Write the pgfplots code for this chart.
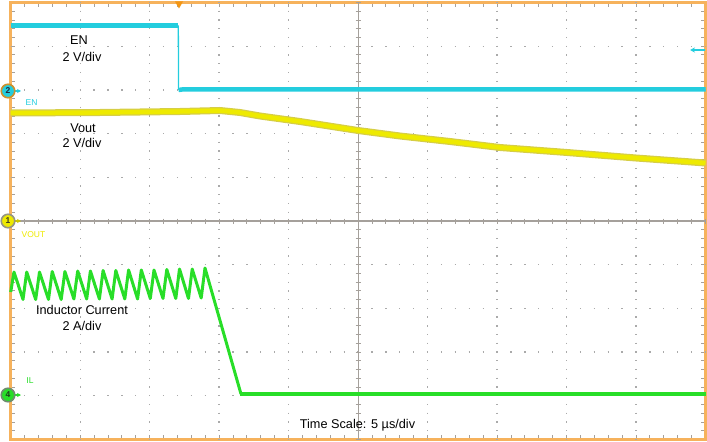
\documentclass[border=0pt]{standalone}
\usepackage{fontspec}
\setmainfont{Liberation Sans}
\usepackage{pgfplots}
\pgfplotsset{compat=1.18}
\usetikzlibrary{arrows.meta,calc}
\definecolor{frameor}{RGB}{246,178,92}
\definecolor{trigor}{RGB}{243,150,20}
\definecolor{tickgray}{RGB}{165,160,155}
\definecolor{gridgray}{RGB}{170,170,170}
\definecolor{encyan}{RGB}{35,205,222}
\definecolor{voyellow}{RGB}{238,234,0}
\definecolor{voedge}{RGB}{214,206,70}
\definecolor{ilgreen}{RGB}{40,222,40}
\begin{document}
\begin{tikzpicture}
\begin{axis}[
  scale only axis, width=694.8bp, height=437bp,
  xmin=10.7, xmax=705.5, ymin=2.5, ymax=439.5, y dir=reverse,
  axis line style={draw=frameor, line width=3bp},
  xtick={10.7,24.596,...,706}, ytick={2.5,11.24,...,440},
  xticklabel=\empty, yticklabel=\empty,
  tick align=inside, major tick length=4.5bp,
  tick style={draw=tickgray, line width=0.9bp},
  clip=false,
]
% grid
\pgfplotsinvokeforeach{1,2,3,4,6,7,8,9}{
  \draw[gridgray, line width=1.3bp, dash pattern=on 1.3bp off 7.44bp, dash phase=0.65bp]
    ({10.7+69.48*#1},2.5) -- ({10.7+69.48*#1},439.5);
  \draw[gridgray, line width=1.3bp, dash pattern=on 1.3bp off 12.596bp, dash phase=0.65bp]
    (10.7,{2.5+43.7*#1}) -- (705.5,{2.5+43.7*#1});
}
\draw[tickgray, line width=1.1bp] (358.1,2.5) -- (358.1,439.5);
\draw[tickgray, line width=1.1bp] (10.7,221) -- (705.5,221);
\pgfplotsinvokeforeach{0,...,50}{
  \draw[tickgray, line width=0.9bp] ({10.7+13.896*#1},218.5) -- ({10.7+13.896*#1},223.5);
  \draw[tickgray, line width=0.9bp] (355.6,{2.5+8.74*#1}) -- (360.6,{2.5+8.74*#1});
}
% EN (channel 2)
\addplot[encyan, line width=4.5bp, line join=round] coordinates {(10.7,25.5) (178,25.5)};
\addplot[encyan, line width=1.3bp] coordinates {(178.3,25.5) (178.6,90)};
\addplot[encyan, line width=4.5bp] coordinates {(178.5,90) (182,89.5) (705.5,89.5)};
% Vout (channel 1)
\addplot[voedge, line width=7bp, line join=round] coordinates {
 (10.7,113) (100,112.5) (180,111.5) (220,110.5) (240,112.5) (260,116) (300,121.5)
 (358,130.5) (400,136) (450,141.5) (500,147.5) (567,152.5) (636,158) (705.5,163)};
\addplot[voyellow, line width=4.5bp, line join=round] coordinates {
 (10.7,113) (100,112.5) (180,111.5) (220,110.5) (240,112.5) (260,116) (300,121.5)
 (358,130.5) (400,136) (450,141.5) (500,147.5) (567,152.5) (636,158) (705.5,163)};
% Inductor current (channel 4)
\addplot[ilgreen, line width=3bp, line join=round] coordinates {
 (10.7,292) (14,272) (23,299.5) (26.7,272) (35.7,299.5) (39.5,272) (48.5,299.5)
 (52.2,271.5) (61.2,299.5) (64.9,271.5) (73.9,299) (77.7,271) (86.7,299)
 (90.4,271) (99.4,299) (103.1,270.5) (112.1,299) (115.8,270.5) (124.8,299)
 (128.6,270) (137.6,299) (141.3,270) (150.3,298.5) (154,270) (163,298.5)
 (166.8,269.5) (175.8,298.5) (179.5,269) (188.5,298.5) (192.2,269) (201.2,298)
 (205,268) (211,289) (241,394)};
\addplot[ilgreen, line width=4.5bp] coordinates {(240,394) (705.5,394)};
% labels
\node[anchor=base, font=\fontsize{12.7bp}{15bp}\selectfont] at (79,45) {EN};
\node[anchor=base, font=\fontsize{12.7bp}{15bp}\selectfont] at (82,62) {2 V/div};
\node[anchor=base, font=\fontsize{12.7bp}{15bp}\selectfont] at (83,132) {Vout};
\node[anchor=base, font=\fontsize{12.7bp}{15bp}\selectfont] at (82,147) {2 V/div};
\node[anchor=base, font=\fontsize{12.7bp}{15bp}\selectfont] at (82,314) {Inductor Current};
\node[anchor=base, font=\fontsize{12.7bp}{15bp}\selectfont] at (82,330) {2 A/div};
\node[anchor=base, font=\fontsize{12.7bp}{15bp}\selectfont] at (357.5,428) {Time Scale: 5 µs/div};
% channel tags
\node[anchor=base, text=encyan, font=\fontsize{8.5bp}{9bp}\selectfont] at (31.5,106) {EN};
\node[anchor=base, text=voyellow, font=\fontsize{8.5bp}{9bp}\selectfont] at (33.5,237) {VOUT};
\node[anchor=base, text=ilgreen, font=\fontsize{8.5bp}{9bp}\selectfont] at (30,383) {IL};
% channel markers
\draw[encyan, line width=1.2bp, -{Stealth[length=4bp,width=4bp]}] (13,91) -- (21,91);
\draw[voyellow!85!black, line width=1.2bp, -{Stealth[length=4bp,width=4bp]}] (13,221) -- (21,221);
\draw[ilgreen, line width=1.2bp, -{Stealth[length=4bp,width=4bp]}] (13,395) -- (21,395);
\node[circle, fill=encyan, draw={rgb,255:red,205;green,145;blue,45}, line width=1.6bp, minimum size=13.5bp, inner sep=0pt,
  font=\fontsize{8.5bp}{9bp}\selectfont\bfseries, text={rgb,255:red,30;green,40;blue,60}] at (8,91) {2};
\node[circle, fill=voyellow, draw={rgb,255:red,150;green,150;blue,130}, line width=1.6bp, minimum size=13.5bp, inner sep=0pt,
  font=\fontsize{8.5bp}{9bp}\selectfont\bfseries, text={rgb,255:red,60;green,60;blue,30}] at (8,221) {1};
\node[circle, fill=ilgreen, draw={rgb,255:red,110;green,140;blue,110}, line width=1.6bp, minimum size=13.5bp, inner sep=0pt,
  font=\fontsize{8.5bp}{9bp}\selectfont\bfseries, text={rgb,255:red,30;green,60;blue,30}] at (8,395) {4};
% trigger level arrow and trigger position
\draw[encyan, line width=1.2bp, -{Stealth[length=5bp,width=5bp]}] (705,50) -- (690,50);
\fill[trigor] (175,1.5) -- (183,1.5) -- (179,8.5) -- cycle;
\end{axis}
\pgfresetboundingbox
\path ($(current axis.south west)+(-10.7bp,-2.5bp)$) rectangle ($(current axis.north east)+(1.5bp,2.5bp)$);
\end{tikzpicture}
\end{document}
